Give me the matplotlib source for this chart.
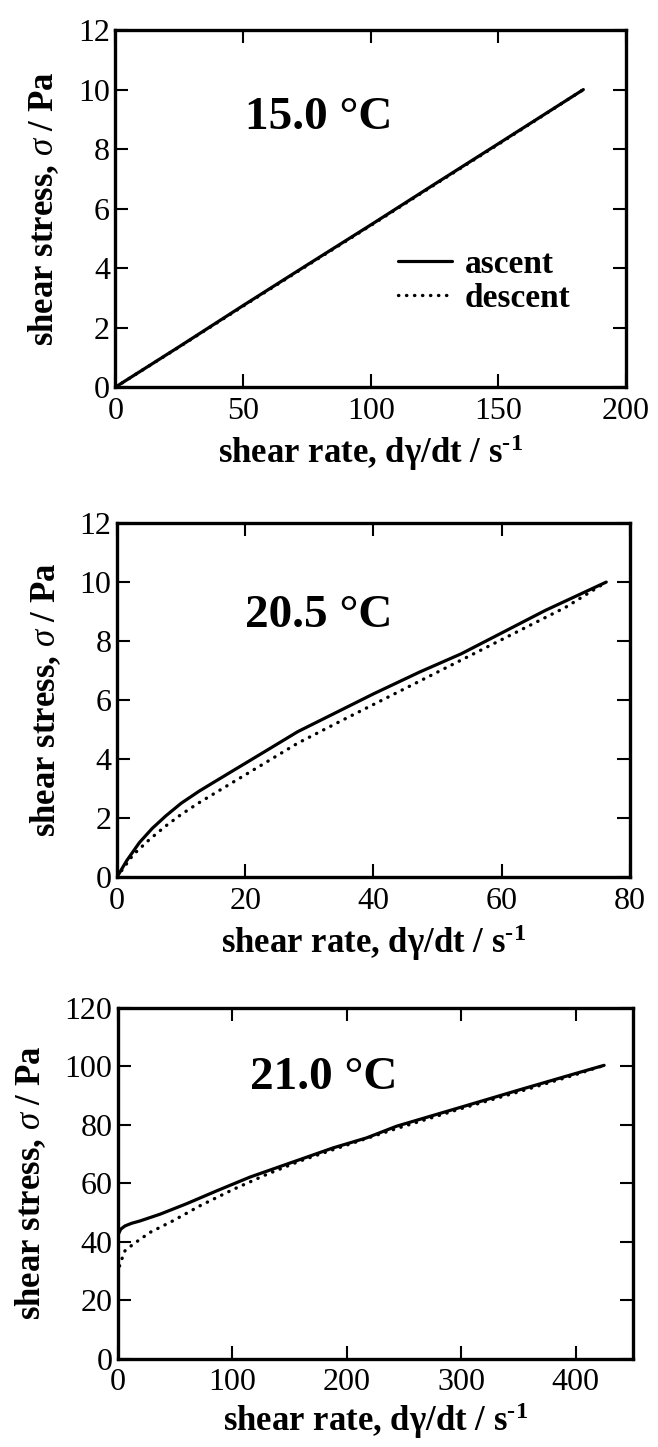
import numpy as np
import matplotlib
matplotlib.use("Agg")
import matplotlib.pyplot as plt

plt.rcParams['font.family'] = ['Liberation Serif', 'DejaVu Serif']
plt.rcParams['mathtext.fontset'] = 'custom'
plt.rcParams['mathtext.rm'] = 'Liberation Serif:bold'
plt.rcParams['mathtext.it'] = 'Liberation Serif:italic'
plt.rcParams['mathtext.bf'] = 'Liberation Serif:bold'

# 15.0 C : ascent and descent practically coincide
rate_15_up = [0, 25, 50, 75, 100, 125, 150, 183.3]
stress_15_up = [0, 1.36, 2.74, 4.10, 5.45, 6.82, 8.18, 10.0]
rate_15_down = [0, 25, 50, 75, 100, 125, 150, 183.3]
stress_15_down = [0, 1.35, 2.72, 4.08, 5.43, 6.80, 8.16, 10.0]

# 20.5 C
rate_205_up = [0, 1.5, 3.5, 5.5, 7.6, 10, 12.8, 15, 17.9, 20.5, 23.1, 28.2, 33, 40,
               47.2, 53.7, 60.3, 66.8, 76.3]
stress_205_up = [0, 0.55, 1.17, 1.65, 2.07, 2.50, 2.91, 3.20, 3.58, 3.92, 4.26, 4.93,
                 5.45, 6.21, 6.95, 7.57, 8.31, 9.04, 10.0]
rate_205_down = [0, 2.5, 5.1, 7.6, 10, 12.8, 17.9, 23.1, 28.2, 35, 40, 45, 50, 55, 60,
                 65, 70, 76.3]
stress_205_down = [0, 0.75, 1.28, 1.73, 2.12, 2.52, 3.19, 3.87, 4.54, 5.3, 5.85, 6.4,
                   6.95, 7.5, 8.05, 8.6, 9.15, 10.0]

# 21.0 C
rate_21_up = [0, 0.4, 2.5, 6.2, 12, 19.3, 36.8, 60.1, 86.4, 115.5, 159.2, 188.3, 217.4,
              243.7, 300, 350, 400, 425]
stress_21_up = [39.5, 42.6, 44.3, 45.4, 46.3, 47.1, 49.4, 53.0, 57.4, 62.1, 68.1, 72.1,
                75.5, 79.5, 86.0, 91.8, 97.5, 100.3]
rate_21_down = [0, 1.8, 6.2, 13.5, 28.1, 48.4, 71.8, 100.9, 130, 159.2, 188.3, 217.4,
                243.7, 300, 350, 400, 425]
stress_21_down = [29, 32.4, 36.9, 39.2, 43.2, 47.2, 52.3, 57.9, 63.0, 67.6, 71.5, 75.3,
                  78.7, 85.5, 91.2, 97.1, 100.3]

temps = ['15.0 °C', '20.5 °C', '21.0 °C']
x_limits = [(0, 200), (0, 80), (0, 450)]
x_ticks = [np.arange(0, 201, 50), np.arange(0, 81, 20), np.arange(0, 401, 100)]
y_limits = [(0, 12), (0, 12), (0, 120)]
y_ticks = [np.arange(0, 13, 2), np.arange(0, 13, 2), np.arange(0, 121, 20)]

panels = [
    (rate_15_up, stress_15_up, rate_15_down, stress_15_down),
    (rate_205_up, stress_205_up, rate_205_down, stress_205_down),
    (rate_21_up, stress_21_up, rate_21_down, stress_21_down),
]

# axes rectangles (figure fraction) and where the temperature label sits
rects = [
    [0.1755, 0.7325, 0.7758, 0.2467],
    [0.1778, 0.3939, 0.7796, 0.2446],
    [0.1792, 0.0610, 0.7824, 0.2426],
]
title_pos = [(0.254, 0.722), (0.250, 0.707), (0.257, 0.767)]
xlabel_pad = [5, 5, 2]

fig = plt.figure(figsize=(6.58, 14.47), dpi=100)

dot_style = (0, (0.1, 2.3))

for i, (xu, yu, xd, yd) in enumerate(panels):
    ax = fig.add_axes(rects[i])
    ax.plot(xu, yu, color='black', lw=2.3, solid_capstyle='round',
            solid_joinstyle='round', label='ascent')
    ax.plot(xd, yd, color='black', lw=2.4, linestyle=dot_style,
            dash_capstyle='round', label='descent')

    ax.set_xlim(*x_limits[i])
    ax.set_ylim(*y_limits[i])
    ax.set_xticks(x_ticks[i])
    ax.set_yticks(y_ticks[i])

    for side in ax.spines.values():
        side.set_linewidth(2.4)
    ax.tick_params(direction='in', length=9.5, width=1.5, top=True, right=True,
                   labelsize=23)
    ax.tick_params(axis='x', pad=7)
    ax.tick_params(axis='y', pad=4)

    ax.set_xlabel(r'shear rate, dγ/dt / s$^{\text{-}1}$', fontsize=25,
                  fontweight='bold', labelpad=xlabel_pad[i])
    ax.set_ylabel(r'shear stress, $\sigma$ / Pa', fontsize=25,
                  fontweight='bold', labelpad=12)

    ax.text(title_pos[i][0], title_pos[i][1], temps[i], transform=ax.transAxes,
            fontsize=34, fontweight='bold', ha='left', va='baseline')

    if i == 0:
        ax.legend(loc='upper left', bbox_to_anchor=(0.554, 0.388), frameon=False,
                  prop={'size': 24, 'weight': 'bold'}, handlelength=1.6,
                  handletextpad=0.4, labelspacing=0.1, borderpad=0,
                  borderaxespad=0)

fig.savefig('out.png', dpi=100)
